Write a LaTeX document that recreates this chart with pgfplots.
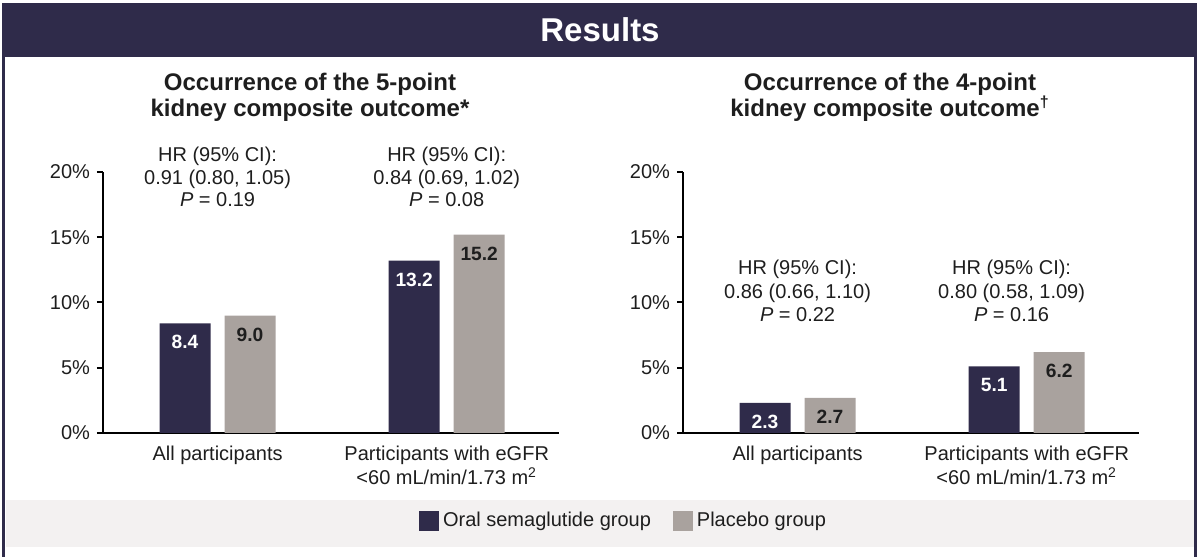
\documentclass[border=0pt]{standalone}
\usepackage{fontspec}
\setmainfont{Liberation Sans}
\usepackage{pgfplots}
\pgfplotsset{compat=1.18}

\definecolor{navy}{HTML}{2F2B4A}
\definecolor{warmgray}{HTML}{A9A29E}
\definecolor{band}{HTML}{F3F1F1}
\definecolor{ink}{HTML}{1E1E1E}

% one panel of the figure (1px of the reference = 0.5pt)
\pgfplotsset{kidney/.style={
  scale only axis, width=228pt, height=130.5pt,
  anchor=south west, clip=false,
  xmin=-0.5, xmax=1.49, ymin=0, ymax=20,
  axis x line=bottom, axis y line=left,
  axis line style={-, line width=1pt, black},
  xtick={0,1}, x tick style={draw=none},
  xticklabels={All participants,{Participants with eGFR\\<60 mL/min/1.73 m\textsuperscript{2}}},
  xticklabel style={align=center, text=ink, font=\fontsize{10}{12}\selectfont},
  ytick={0,5,10,15,20},
  yticklabel={\pgfmathprintnumber{\tick}\%},
  yticklabel style={text=ink, font=\fontsize{10}{12}\selectfont},
  y tick style={line width=1pt, black},
  tick align=outside, major tick length=3pt,
  /pgf/number format/assume math mode=true,
  ybar, bar width=25.5pt,
  nodes near coords={\pgfmathprintnumber[fixed,fixed zerofill,precision=1]{\pgfplotspointmeta}},
  every node near coord/.append style={anchor=center, yshift=-9.5pt,
    font=\bfseries\fontsize{9.6}{10}\selectfont},
  legend image code/.code={\fill[##1] (0pt,-5pt) rectangle (10pt,5pt);},
}}

\begin{document}
\begin{tikzpicture}
\useasboundingbox (0,0) rectangle (600pt,278.5pt);

% header and frame
\fill[navy] (1.5pt,250pt) rectangle (598.5pt,277pt);
\node[text=white, font=\bfseries\fontsize{16.5}{18}\selectfont] at (300pt,263.5pt) {Results};
\draw[navy, line width=1.2pt] (1.8pt,0pt) -- (1.8pt,277pt);
\draw[navy, line width=1.2pt] (597.7pt,0pt) -- (597.7pt,277pt);

% legend band
\fill[band] (3pt,5pt) rectangle (597pt,28.5pt);

% panel titles
\node[align=center, text=ink, font=\bfseries\fontsize{12}{13}\selectfont] at (155pt,230pt)
  {Occurrence of the 5-point\\kidney composite outcome*};
\node[align=center, text=ink, font=\bfseries\fontsize{12}{13}\selectfont] at (445pt,230pt)
  {Occurrence of the 4-point\\kidney composite outcome\textsuperscript{†}};

% 5-point outcome
\begin{axis}[kidney, at={(51.5pt,62pt)},
  legend style={at={(1.1436,-0.337)}, anchor=center, draw=none, fill=none,
    legend columns=2, font=\fontsize{10}{12}\selectfont, text=ink,
    /tikz/every even column/.append style={column sep=9pt}},
  legend cell align=left]
\addplot[fill=navy, draw=none, bar shift=-16.25pt,
  every node near coord/.append style={text=white}]
  coordinates {(0,8.4) (1,13.2)};
\addlegendentry{Oral semaglutide group}
\addplot[fill=warmgray, draw=none, bar shift=16.25pt,
  every node near coord/.append style={text=ink}]
  coordinates {(0,9.0) (1,15.2)};
\addlegendentry{Placebo group}
\node[align=center, text=ink, font=\fontsize{10}{11.2}\selectfont] at (axis cs:0,19.62)
  {HR (95\% CI):\\0.91 (0.80, 1.05)\\\textit{P} = 0.19};
\node[align=center, text=ink, font=\fontsize{10}{11.2}\selectfont] at (axis cs:1,19.62)
  {HR (95\% CI):\\0.84 (0.69, 1.02)\\\textit{P} = 0.08};
\end{axis}

% 4-point outcome
\begin{axis}[kidney, at={(341.5pt,62pt)}]
\addplot[fill=navy, draw=none, bar shift=-16.25pt,
  every node near coord/.append style={text=white}]
  coordinates {(0,2.3) (1,5.1)};
\addplot[fill=warmgray, draw=none, bar shift=16.25pt,
  every node near coord/.append style={text=ink}]
  coordinates {(0,2.7) (1,6.2)};
\node[align=center, text=ink, font=\fontsize{10}{11.8}\selectfont] at (axis cs:0,10.88)
  {HR (95\% CI):\\0.86 (0.66, 1.10)\\\textit{P} = 0.22};
\node[align=center, text=ink, font=\fontsize{10}{11.8}\selectfont] at (axis cs:0.934,10.88)
  {HR (95\% CI):\\0.80 (0.58, 1.09)\\\textit{P} = 0.16};
\end{axis}
\end{tikzpicture}
\end{document}
